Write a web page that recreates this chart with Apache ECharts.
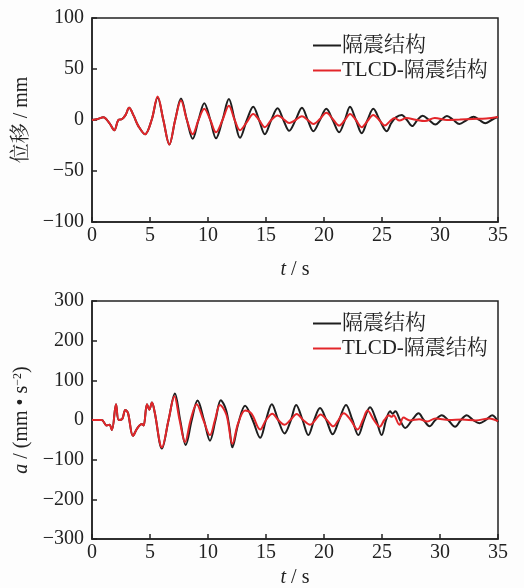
<!DOCTYPE html>
<html>
<head>
<meta charset="utf-8">
<script src="https://cdn.jsdelivr.net/npm/echarts@6/dist/echarts.min.js"></script>
<style>
  html, body { margin: 0; padding: 0; background: #fdfdfd; }
  #chart { width: 524px; height: 588px; }
</style>
</head>
<body>
<div id="chart"></div>
<script>
  // time ticks (s)
  const tTicks = [0, 5, 10, 15, 20, 25, 30, 35]
  const dispTicks = [-100, -50, 0, 50, 100]
  const accTicks = [-300, -200, -100, 0, 100, 200, 300]
  const seriesNames = ['隔震结构', 'TLCD-隔震结构']

  // displacement, [t, mm]
  const dispIso = [[0,0],[0.5,1],[0.97,2.7],[1.5,-3],[1.92,-10],[2.27,0],[2.6,1],[2.9,5],[3.2,12],[3.6,4],
    [4.0,-6],[4.57,-14],[5.14,0],[5.66,22],[6.15,0],[6.67,-24],[7.17,0],[7.67,21],[8.18,0],[8.68,-18.5],
    [9.18,0],[9.68,16.5],[10.2,0],[10.69,-18],[11.25,0],[11.8,20.5],[12.3,0],[12.76,-17.5],[13.35,0],[13.9,13],
    [14.4,0],[14.9,-14],[15.45,0],[16.0,11.5],[16.5,0],[17.0,-10.5],[17.55,0],[18.1,12],[18.6,0],[19.08,-11],
    [19.65,0],[20.2,11],[20.75,0],[21.3,-12],[21.8,0],[22.24,13],[22.75,0],[23.25,-13],[23.75,0],[24.25,11],
    [24.8,0],[25.4,-11],[25.8,-3],[26.2,2.6],[26.7,5],[27.15,0],[27.6,-6],[28.05,0],[28.5,4.2],[29.05,0],
    [29.6,-4.5],[30.1,0],[30.6,3.9],[31.15,0],[31.67,-3.9],[32.3,0],[32.9,3.2],[33.4,0],[33.9,-3.2],[34.45,0],[35,3.2]]
  const dispTlcd = [[0,0],[0.5,1],[0.97,2.7],[1.5,-3],[1.92,-10],[2.27,0],[2.6,1],[2.9,5],[3.2,12],[3.6,4],
    [4.0,-6],[4.57,-14],[5.14,0],[5.66,23],[6.15,0],[6.67,-24],[7.17,0],[7.67,19],[8.18,0],[8.68,-14],
    [9.18,0],[9.68,11],[10.2,0],[10.69,-12],[11.25,0],[11.8,14],[12.3,0],[12.76,-10],[13.35,-2],[13.9,6],
    [14.4,0],[14.9,-7],[15.45,0],[16.0,4.5],[16.5,1],[17.0,-3],[17.55,0],[18.1,3.7],[18.6,0],[19.1,-4],
    [19.65,1],[20.2,7],[20.75,1],[21.3,-5.5],[21.8,0],[22.24,6],[22.75,0],[23.25,-7],[23.75,-1],[24.25,5],
    [24.75,0],[25.25,-5.5],[25.7,-1],[26.1,2],[26.5,-0.6],[27.1,2],[27.9,0.3],[28.7,-1],[29.55,2],[30.6,0],
    [31.7,0.5],[32.8,1],[34,1.5],[35,3]]

  // acceleration, [t, mm/s^2]
  const accIso = [[0,0],[0.83,0],[1.26,-14],[1.5,-12],[1.72,-25],[2.07,40],[2.3,0],[2.6,2],[2.87,25],[3.1,18],
    [3.53,-40],[3.9,-21],[4.3,-10],[4.45,-14],[4.74,40],[4.94,26],[5.17,44],[5.4,20],[6.03,-72],[6.6,0],
    [7.15,67],[7.6,0],[8.08,-63],[8.6,0],[9.1,49],[9.65,0],[10.17,-52],[10.65,0],[11.1,50],[11.55,26],
    [11.85,-20],[12.1,-69],[12.6,-10],[13.2,36],[13.85,0],[14.5,-45],[15.0,0],[15.5,40],[16.05,0],[16.6,-34],
    [17.15,0],[17.6,38],[18.15,0],[18.65,-38],[19.15,0],[19.66,30],[20.2,0],[20.75,-36],[21.3,0],[21.9,38],
    [22.45,0],[22.96,-38],[23.45,0],[23.97,32],[24.5,0],[24.97,-38],[25.35,0],[25.7,22],[25.9,16],[26.15,22],
    [26.55,0],[27.0,-20],[27.6,0],[28.15,17],[28.6,0],[29.1,-16],[29.6,0],[30.15,12],[30.7,0],[31.3,-17],
    [31.8,0],[32.3,12],[32.85,0],[33.4,-8],[33.95,0],[34.5,12],[35,-5]]
  const accTlcd = [[0,0],[0.83,0],[1.26,-14],[1.5,-12],[1.72,-25],[2.07,40],[2.3,0],[2.6,2],[2.87,25],[3.1,18],
    [3.53,-40],[3.9,-21],[4.3,-10],[4.45,-14],[4.74,40],[4.94,26],[5.17,44],[5.4,20],[6.03,-69],[6.6,0],
    [7.1,60],[7.55,0],[8.02,-56],[8.5,0],[9.02,40],[9.6,0],[10.17,-38],[10.6,0],[11.03,38],[11.6,12],
    [12.1,-60],[12.6,-8],[13.2,24],[13.75,16],[14.5,-24],[15.0,0],[15.55,16],[16.05,0],[16.6,-12],[17.1,0],
    [17.65,15],[18.2,0],[18.8,-12],[19.25,0],[19.7,14],[20.25,0],[20.8,-16],[21.25,0],[21.7,17],[22.3,0],
    [22.9,-24],[23.35,0],[23.75,24],[24.3,0],[24.8,-17],[25.2,0],[25.6,12],[25.8,8],[26.0,12],[26.5,-12],
    [26.85,6],[27.4,-1],[28.2,2],[28.9,-4],[29.6,4],[30.8,0],[31.9,1],[33.1,-1],[34.25,4],[35,-3]]

  const font = "'Liberation Serif', 'Noto Serif CJK SC', 'Noto Sans CJK SC', serif"
  const ink = '#222'
  const lineColors = ['#1e1e1e', '#e3262a']
  const minus = v => String(v).replace('-', '\u2212')

  function xAxisOf(gridIndex, gap) {
    return {
      gridIndex: gridIndex,
      type: 'value',
      min: 0, max: 35, interval: 5,
      name: '{i|t} / s',
      nameLocation: 'middle',
      nameGap: gap,
      nameTextStyle: {
        fontFamily: font, fontSize: 20, color: ink,
        rich: { i: { fontFamily: font, fontSize: 20, fontStyle: 'italic', color: ink } }
      },
      axisLine: { show: true, onZero: false, lineStyle: { color: ink, width: 1.5 } },
      axisTick: { show: true, inside: true, length: 5, lineStyle: { color: ink, width: 1.5 } },
      axisLabel: { fontFamily: font, fontSize: 20, color: ink, margin: 4 },
      splitLine: { show: false }
    }
  }

  function yAxisOf(gridIndex, min, max, interval, name, rich) {
    return {
      gridIndex: gridIndex,
      type: 'value',
      min: min, max: max, interval: interval,
      name: name,
      nameLocation: 'middle',
      nameGap: 60,
      nameMoveOverlap: false,
      nameTextStyle: { fontFamily: font, fontSize: 20, color: ink, rich: rich },
      axisLine: { show: true, onZero: false, lineStyle: { color: ink, width: 1.5 } },
      axisTick: { show: true, inside: true, length: 5, lineStyle: { color: ink, width: 1.5 } },
      axisLabel: { fontFamily: font, fontSize: 20, color: ink, margin: 8, formatter: minus },
      splitLine: { show: false }
    }
  }

  function lineOf(name, idx, data, color) {
    return {
      name: name,
      type: 'line',
      xAxisIndex: idx,
      yAxisIndex: idx,
      data: data,
      smooth: 0.35,
      symbol: 'none',
      lineStyle: { color: color, width: 2 },
      itemStyle: { color: color }
    }
  }

  function legendOf(top) {
    return {
      orient: 'vertical',
      left: 308,
      top: top,
      itemWidth: 28,
      itemHeight: 2,
      itemGap: 4,
      icon: 'rect',
      textStyle: { fontFamily: font, fontSize: 21, color: ink, padding: [0, 0, 0, -4] },
      data: seriesNames
    }
  }

  const chart = echarts.init(document.getElementById('chart'), null, { renderer: 'canvas' })
  chart.setOption({
    backgroundColor: '#fdfdfd',
    animation: false,
    grid: [
      { left: 92, right: 26, top: 18, height: 204, outerBoundsMode: 'none',
        show: true, borderColor: ink, borderWidth: 1.5 },
      { left: 92, right: 26, top: 301, height: 238, outerBoundsMode: 'none',
        show: true, borderColor: ink, borderWidth: 1.5 }
    ],
    legend: [legendOf(30), legendOf(308)],
    xAxis: [xAxisOf(0, 38), xAxisOf(1, 29)],
    yAxis: [
      yAxisOf(0, -100, 100, 50, '位移 / mm', {}),
      yAxisOf(1, -300, 300, 100, '{i|a} / (mm \u2022 s{s|\u22122})', {
        i: { fontFamily: font, fontSize: 20, fontStyle: 'italic', color: ink },
        s: { fontFamily: font, fontSize: 12, color: ink, verticalAlign: 'top', padding: [0, 0, 8, 0] }
      })
    ],
    series: [
      lineOf(seriesNames[0], 0, dispIso, lineColors[0]),
      lineOf(seriesNames[1], 0, dispTlcd, lineColors[1]),
      lineOf(seriesNames[0], 1, accIso, lineColors[0]),
      lineOf(seriesNames[1], 1, accTlcd, lineColors[1])
    ]
  })
</script>
</body>
</html>
